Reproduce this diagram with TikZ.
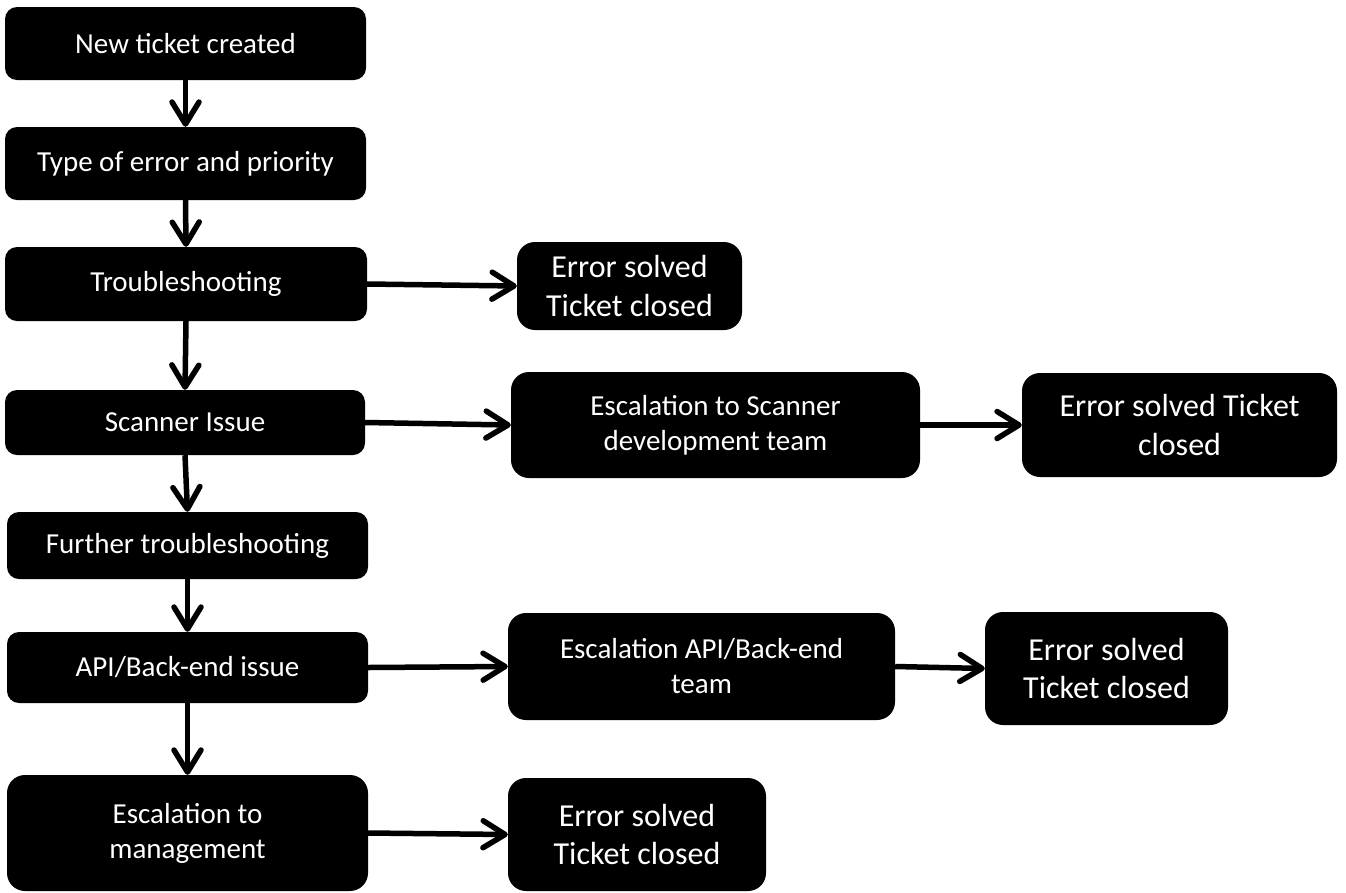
\documentclass[tikz,border=0pt]{standalone}
\usepackage{fontspec}
\setmainfont{Carlito}
\usetikzlibrary{arrows.meta}

\begin{document}
\begin{tikzpicture}[x=1pt, y=-1pt,
        every node/.style = {shape=rectangle, rounded corners=12pt,
            fill=black, text=white, align=center, inner sep=0pt,
            font=\fontsize{29}{35}\selectfont},
        solved/.style = {rounded corners=18pt,
            font=\fontsize{32}{38.5}\selectfont},
        tall/.style = {rounded corners=18pt},
        flow/.style = {line width=5.5pt,
            -{Straight Barb[length=22pt, width=27pt, line cap=round, line join=round]}}]
    \useasboundingbox (0,0) rectangle (1346,892);

    % main column
    \node (new) [minimum width=361pt, minimum height=73pt] at (185.5,43.5) {New ticket created};
    \node (type) [minimum width=361pt, minimum height=73pt] at (185.5,163.5) {Type of error and priority};
    \node (trouble) [minimum width=362pt, minimum height=74pt] at (186,284) {Troubleshooting};
    \node (scanner) [minimum width=360pt, minimum height=65pt] at (185,422.5) {Scanner Issue};
    \node (further) [minimum width=361pt, minimum height=67pt] at (187.5,545.5) {Further troubleshooting};
    \node (api) [minimum width=361pt, minimum height=71pt] at (187.5,667.5) {API/Back-end issue};
    \node (mgmt) [tall, minimum width=361pt, minimum height=116pt] at (187.5,833) {Escalation to\\management};

    % escalations
    \node (escscan) [tall, minimum width=409pt, minimum height=106pt] at (715.5,425) {Escalation to Scanner\\development team};
    \node (escapi) [tall, minimum width=387pt, minimum height=107pt] at (701.5,666.5) {Escalation API/Back-end\\team};

    % closed tickets
    \node (closedA) [solved, minimum width=225pt, minimum height=88pt] at (629.5,286) {Error solved\\Ticket closed};
    \node (closedB) [solved, minimum width=315pt, minimum height=104pt] at (1179.5,425) {Error solved Ticket\\closed};
    \node (closedC) [solved, minimum width=243pt, minimum height=113pt] at (1106.5,668.5) {Error solved\\Ticket closed};
    \node (closedD) [solved, minimum width=258pt, minimum height=113pt] at (637,834.5) {Error solved\\Ticket closed};

    \draw[flow] (new.south) -- (type.north);
    \draw[flow] (type.south) -- (trouble.north);
    \draw[flow] (trouble.south) -- (scanner.north);
    \draw[flow] (scanner.south) -- (further.north);
    \draw[flow] (further.south) -- (api.north);
    \draw[flow] (api.south) -- (mgmt.north);

    \draw[flow] (trouble.east) -- (closedA.west);
    \draw[flow] (scanner.east) -- (escscan.west);
    \draw[flow] (escscan.east) -- (closedB.west);
    \draw[flow] (api.east) -- (escapi.west);
    \draw[flow] (escapi.east) -- (closedC.west);
    \draw[flow] (mgmt.east) -- (closedD.west);
\end{tikzpicture}
\end{document}
